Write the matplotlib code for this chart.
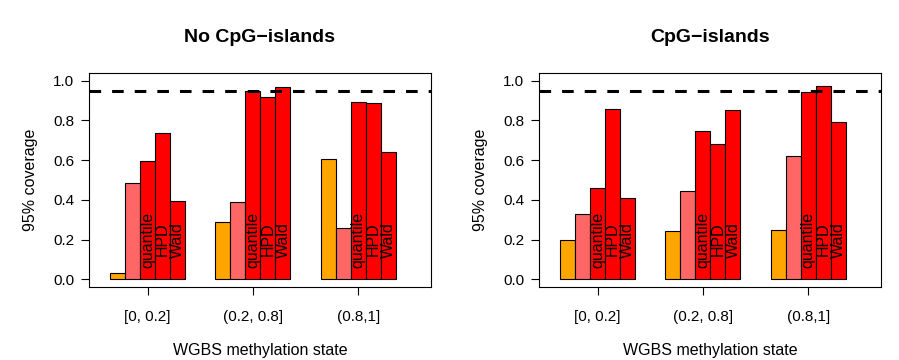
import numpy as np
import matplotlib
matplotlib.use("Agg")
import matplotlib.pyplot as plt

plt.rcParams['font.family'] = ['Liberation Sans', 'DejaVu Sans']

groups = ["[0, 0.2]", "(0.2, 0.8]", "(0.8,1]"]
methods = ["", "", "quantile", "HPD", "Wald"]
colors = ["#FFA500", "#FF6666", "#FF0000", "#FF0000", "#FF0000"]

# rows = methylation groups, cols = the 5 bars per group
no_cpg = [[0.033, 0.487, 0.597, 0.736, 0.396],
          [0.291, 0.391, 0.948, 0.920, 0.970],
          [0.605, 0.256, 0.895, 0.888, 0.640]]
cpg = [[0.197, 0.329, 0.462, 0.855, 0.410],
       [0.242, 0.445, 0.747, 0.679, 0.851],
       [0.246, 0.620, 0.943, 0.975, 0.794]]
titles = ["No CpG\u2212islands", "CpG\u2212islands"]
nominal = 0.95

fig = plt.figure(figsize=(8.99, 3.6), dpi=100)
lefts = [89.3 / 899, 539.3 / 899]
fs = 11.5
tfs = 11

for k, vals in enumerate([no_cpg, cpg]):
    ax = fig.add_axes([lefts[k], 1 - 287.3 / 360, 341.4 / 899, 214.6 / 360])
    vals = np.array(vals)
    for g in range(len(groups)):
        for i in range(5):
            x = g * 7 + i
            ax.bar(x, vals[g, i], width=1, align='edge', color=colors[i],
                   edgecolor='black', linewidth=0.8)
            if methods[i]:
                ax.text(x + 0.5, 0.2, methods[i], rotation=90, ha='center',
                        va='center', fontsize=fs)
    ax.axhline(nominal, color='black', lw=2.2, linestyle=(0, (3.8, 3.6)))
    ax.set_xlim(-1.37, 21.32)
    ax.set_ylim(-0.04, 1.04)
    ax.set_yticks(np.arange(0, 1.01, 0.2))
    ax.set_yticklabels([f"{v:.1f}" for v in np.arange(0, 1.01, 0.2)], fontsize=tfs)
    ax.set_xticks([g * 7 + 2.5 for g in range(len(groups))])
    ax.set_xticklabels(groups, fontsize=tfs)
    ax.tick_params(axis='y', length=6, pad=5, width=0.8)
    ax.tick_params(axis='x', length=6, pad=10, width=0.8)
    for s in ax.spines.values():
        s.set_linewidth(0.8)
    cx = lefts[k] + 341.4 / 899 / 2
    fig.text(cx, 1 - 37 / 360, titles[k], ha='center', va='center',
             fontsize=14, fontweight='bold')
    fig.text(cx, 1 - 350 / 360, "WGBS methylation state", ha='center',
             va='center', fontsize=fs)
    fig.text(lefts[k] - 59 / 899, 1 - 180 / 360, "95% coverage", rotation=90,
             ha='center', va='center', fontsize=fs)

fig.savefig("out.png", dpi=100)
